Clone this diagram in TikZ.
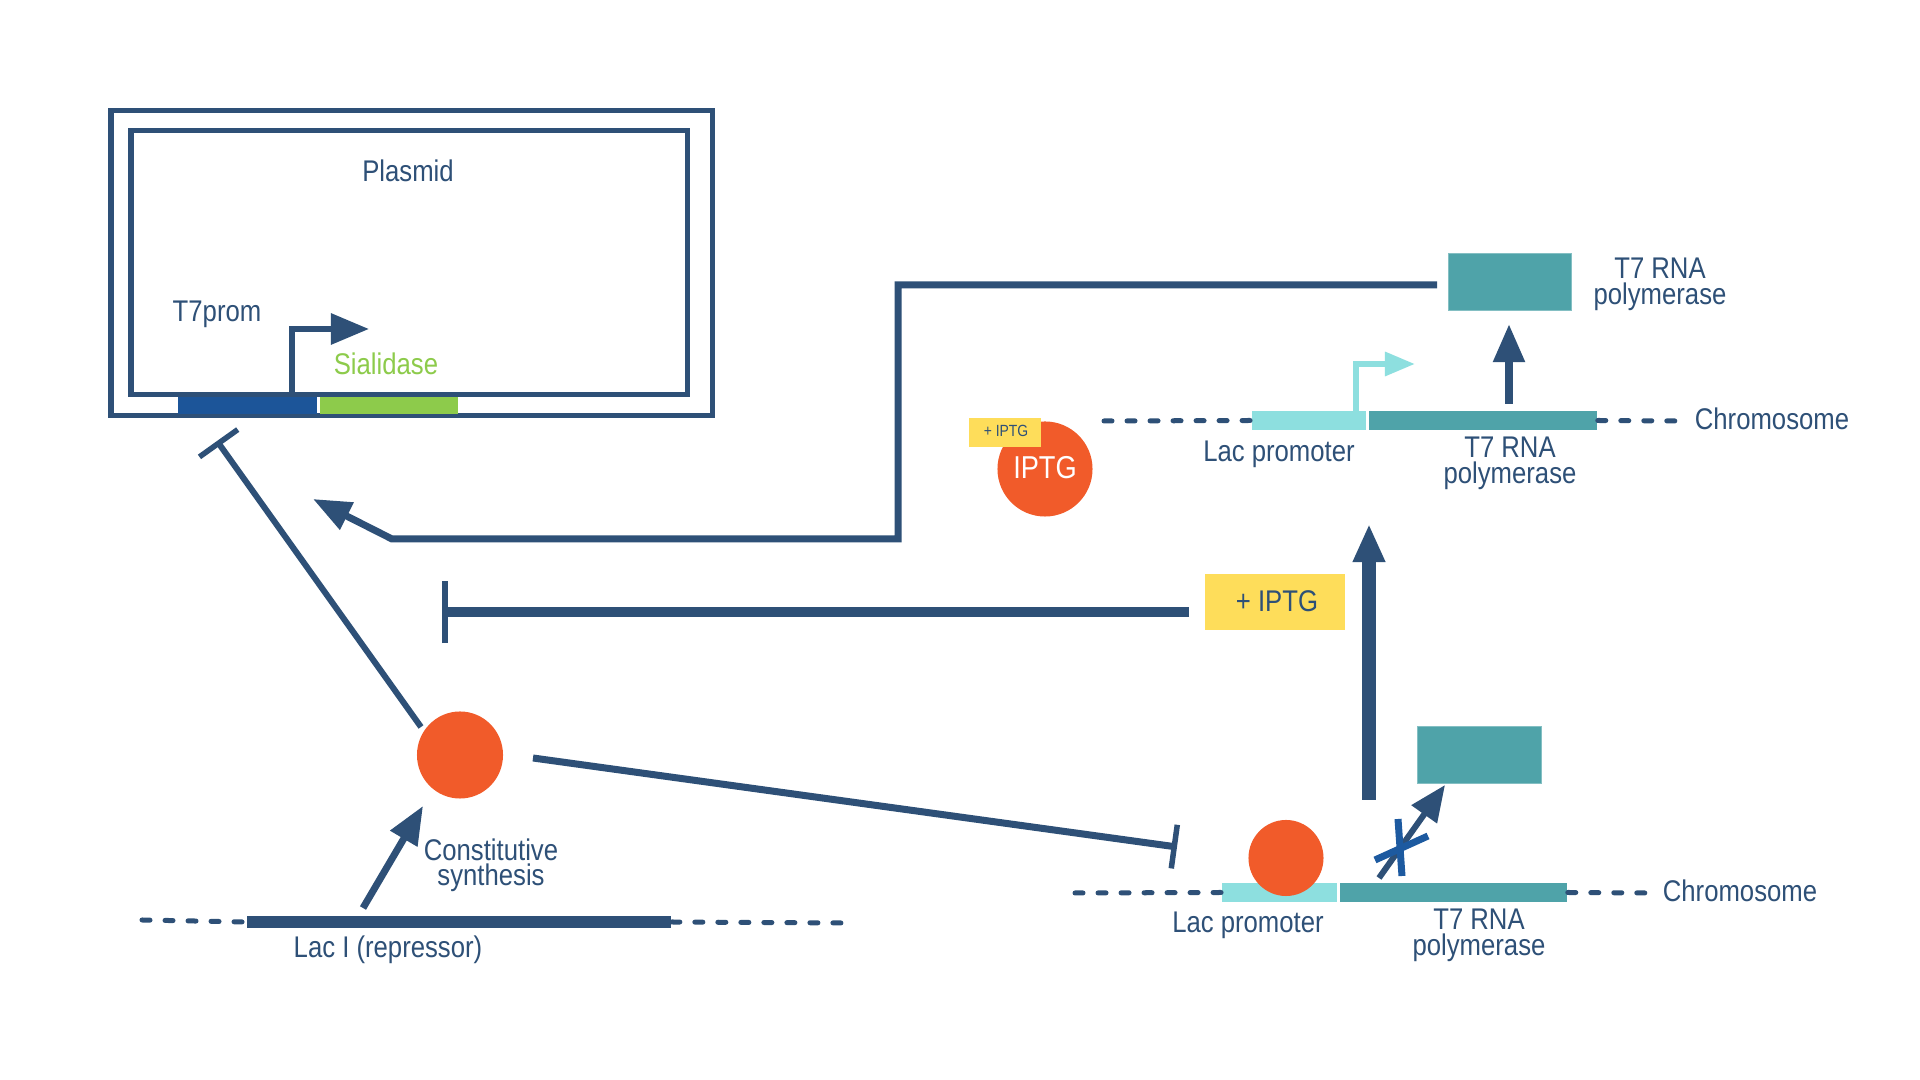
\documentclass[tikz,border=0pt]{standalone}
\usepackage{fontspec}
\setmainfont[FakeStretch=0.86]{Liberation Sans}
\usetikzlibrary{arrows.meta,shapes.geometric}
\definecolor{navy}{HTML}{2E5077}
\definecolor{orng}{HTML}{F15B2A}
\definecolor{tealc}{HTML}{4FA3A9}
\definecolor{cyanc}{HTML}{8DDFDF}
\definecolor{bluebar}{HTML}{1C5599}
\definecolor{greenc}{HTML}{8DCB4B}
\definecolor{yell}{HTML}{FEDD5A}
\definecolor{crossc}{HTML}{1D5AA0}
\begin{document}
\begin{tikzpicture}[x=0.01cm,y=-0.01cm,
  lbl/.style={text=navy, font=\fontsize{8.5}{8}\selectfont, inner sep=0pt, anchor=base},
  genebar/.style={draw=none, inner sep=0pt, minimum height=0.19cm},
  tealbox/.style={fill=tealc, draw=tealc!70!white, line width=0.01cm, inner sep=0pt, minimum width=1.22cm, minimum height=0.56cm},
  blob/.style={fill=orng, draw=none, ellipse, inner sep=0pt},
  chromdash/.style={draw=navy, line width=0.05cm, dash pattern=on 0.08cm off 0.15cm, line cap=round},
  head/.style={-{Triangle[length=0.38cm,width=0.30cm]}},
  inhib/.style={draw=navy, -{Bar[width=#1, line width=0.055cm]}},
  boxline/.style={draw=navy, line width=0.05cm}
]
\fill[white] (0,0) rectangle (1920,1080);
\useasboundingbox (0,0) rectangle (1920,1080);

% ---------- plasmid ----------
\draw[boxline] (111,111) rectangle (712,416);
\draw[boxline] (131,131) rectangle (687,395);
\node[lbl] (plasmid) at (408,182) {Plasmid};
\node[lbl] (t7prom) at (217,322) {T7prom};
\node[lbl, text=greenc] (sial) at (386,375) {Sialidase};
\node[genebar, fill=bluebar, minimum width=1.39cm, minimum height=0.17cm] (bluebar) at (247.5,405.5) {};
\node[genebar, fill=greenc, minimum width=1.38cm, minimum height=0.17cm] (greenbar) at (389,405.5) {};
\coordinate (pStart) at (292,395);
\coordinate (pTip) at (369,329);
\draw[navy, line width=0.06cm, head] (pStart) |- (pTip);

% ---------- Lac I gene ----------
\node[genebar, fill=navy, minimum width=4.24cm, minimum height=0.12cm] (lacIgene) at (459,922) {};
\coordinate (lacIdl) at (142,920);
\coordinate (lacIdr) at (851,923);
\draw[chromdash] (lacIdl) -- (lacIgene.west);
\draw[chromdash] (lacIgene.east) -- (lacIdr);
\node[lbl] (lacIlbl) at (388,958) {Lac I (repressor)};

% repressor protein
\node[blob, minimum width=0.86cm, minimum height=0.87cm] (rep) at (460,755) {};
\coordinate (synS) at (363,908);
\coordinate (synT) at (423,806);
\draw[navy, line width=0.07cm, head] (synS) -- (synT);
\node[lbl] (const1) at (491,861) {Constitutive};
\node[lbl] (const2) at (491,886) {synthesis};

% repressor -| T7 promoter on plasmid
\coordinate (repA) at (421,727);
\coordinate (repAend) at (217,441);
\draw[inhib=0.47cm, line width=0.06cm] (repA) -- (repAend);

% repressor -| bottom lac promoter
\coordinate (repB) at (533,758);
\coordinate (repBend) at (1177,847);
\draw[inhib=0.44cm, line width=0.07cm] (repB) -- (repBend);

% ---------- + IPTG inhibition ----------
\node[fill=yell, inner sep=0pt, minimum width=1.40cm, minimum height=0.56cm] (iptgbox) at (1275,602) {};
\node[lbl] (iptgtxt) at (1277,612) {+ IPTG};
\coordinate (iptgS) at (1189,612);
\coordinate (iptgE) at (442,612);
\draw[inhib=0.62cm, line width=0.10cm] (iptgS) -- (iptgE);

% big arrow up
\coordinate (bigS) at (1369,800);
\coordinate (bigT) at (1369,524);
\draw[navy, line width=0.14cm, head] (bigS) -- (bigT);

% ---------- top chromosome ----------
\node[genebar, fill=cyanc, minimum width=1.14cm] (topLac) at (1309,420.5) {};
\node[genebar, fill=tealc, minimum width=2.28cm] (topT7) at (1483,420.5) {};
\coordinate (topdl) at (1104,421);
\coordinate (topdr) at (1685,421);
\draw[chromdash] (topdl) -- (topLac.west);
\draw[chromdash] (topT7.east) -- (topdr);
\node[lbl] (chromTop) at (1772,430) {Chromosome};
\node[lbl] (lacpTop) at (1279,462) {Lac promoter};
\node[lbl] (t7a) at (1510,458) {T7 RNA};
\node[lbl] (t7b) at (1510,484) {polymerase};
\coordinate (cyS) at (1356,412);
\coordinate (cyT) at (1415,364);
\draw[cyanc, line width=0.06cm, -{Triangle[length=0.30cm,width=0.23cm]}] (cyS) |- (cyT);
\node[tealbox] (t7top) at (1510,282) {};
\coordinate (upS) at (1509,404);
\coordinate (upT) at (1509,324);
\draw[navy, line width=0.08cm, head] (upS) -- (upT);
\node[lbl] (t7c) at (1660,279) {T7 RNA};
\node[lbl] (t7d) at (1660,305) {polymerase};

% long connector T7 RNA polymerase -> plasmid
\coordinate (connS) at (1437,285);
\coordinate (c1) at (898,285);
\coordinate (c2) at (898,539);
\coordinate (c3) at (392,539);
\coordinate (plasTip) at (313,499);
\draw[navy, line width=0.07cm, -{Triangle[length=0.38cm,width=0.29cm]}] (connS) -- (c1) -- (c2) -- (c3) -- (plasTip);

% IPTG molecule
\node[blob, circle, minimum size=0.95cm] (iptg) at (1045,469) {};
\node[lbl, text=white, font=\fontsize{9}{9}\selectfont] (iptgw) at (1045,479) {IPTG};
\node[fill=yell, inner sep=0pt, minimum width=0.72cm, minimum height=0.29cm] (iptgsmall) at (1005,432.5) {};
\node[lbl, font=\fontsize{4.6}{5}\selectfont] (iptgsmt) at (1006,437) {+ IPTG};

% ---------- bottom chromosome ----------
\node[genebar, fill=cyanc, minimum width=1.15cm] (botLac) at (1279.5,892.5) {};
\node[genebar, fill=tealc, minimum width=2.27cm] (botT7) at (1453.5,892.5) {};
\coordinate (botdl) at (1075,893);
\coordinate (botdr) at (1655,893);
\draw[chromdash] (botdl) -- (botLac.west);
\draw[chromdash] (botT7.east) -- (botdr);
\node[blob, minimum width=0.75cm, minimum height=0.76cm] (repbound) at (1286,858) {};
\node[lbl] (chromBot) at (1740,902) {Chromosome};
\node[lbl] (lacpBot) at (1248,933) {Lac promoter};
\node[lbl] (t7e) at (1479,930) {T7 RNA};
\node[lbl] (t7f) at (1479,956) {polymerase};
\node[tealbox, minimum width=1.23cm] (t7bot) at (1479.5,755) {};
\coordinate (blkS) at (1379,878);
\coordinate (blkT) at (1445,785);
\draw[navy, line width=0.06cm, -{Triangle[length=0.36cm,width=0.30cm]}] (blkS) -- (blkT);
\coordinate (xa1) at (1375,860);
\coordinate (xa2) at (1428,836);
\coordinate (xb1) at (1398,819);
\coordinate (xb2) at (1402,876);
\draw[crossc, line width=0.07cm] (xa1) -- (xa2);
\draw[crossc, line width=0.07cm] (xb1) -- (xb2);
\end{tikzpicture}
\end{document}
